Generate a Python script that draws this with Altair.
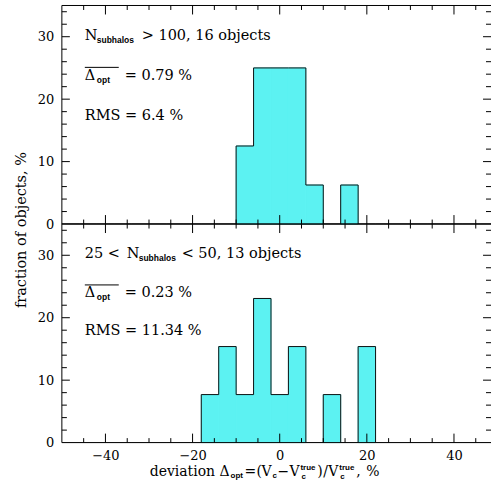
import altair as alt
import pandas as pd

# ---------------- data ----------------
bin_width = 4
hist_start = -50          # bins are aligned at -50 + 4k
hist_stop = 50

top_bin_starts = [-10, -6, -2, 2, 6, 14]
top_pct = [12.5, 25.0, 25.0, 25.0, 6.25, 6.25]

bot_bin_starts = [-18, -14, -10, -6, -2, 2, 10, 18]
bot_pct = [7.69, 15.38, 7.69, 23.08, 7.69, 15.38, 7.69, 15.38]

x_labels = [-40, -20, 0, 20, 40]
x_minor = [-45, -35, -30, -25, -15, -10, -5, 5, 10, 15, 25, 30, 35, 45]
y_labels = [0, 10, 20, 30]
y_major = [10, 20, 30]
y_minor = [2, 4, 6, 8, 12, 14, 16, 18, 22, 24, 26, 28, 32, 34]

top_texts = ["N", "subhalos", "> 100, 16 objects", "Δ", "opt", "= 0.79 %", "RMS = 6.4 %"]
bot_texts = ["25 <", "N", "subhalos", "< 50, 13 objects", "Δ", "opt", "= 0.23 %", "RMS = 11.34 %"]
y_title = "fraction of objects, %"

# ---------------- style ----------------
W, H = 430, 219
SERIF = "DejaVu Serif"
SANS = "Liberation Sans"
CYAN = "#5cf2f2"
FS = 14.5
xs = alt.Scale(domain=[-50, 48.5], nice=False, zero=False)
ys = alt.Scale(domain=[0, 35], nice=False, zero=False)

yaxis = alt.Axis(values=y_labels, ticks=False, domain=False, grid=False,
                 labelPadding=8, title=None, labelFont=SERIF, labelFontSize=13,
                 labelColor="black")
xaxis_bottom = alt.Axis(values=x_labels, ticks=False, domain=False, grid=False,
                        labelPadding=7, title=None, labelFont=SERIF, labelFontSize=13,
                        labelColor="black")


def bars_df(starts, pct):
    return pd.DataFrame({"start": starts,
                         "end": [s + bin_width for s in starts],
                         "pct": pct})


def step_df(starts, pct):
    lookup = dict(zip(starts, pct))
    xs_ = list(range(hist_start, hist_stop, bin_width))
    ys_ = [lookup.get(s, 0.0) for s in xs_]
    xs_.append(hist_stop)
    ys_.append(ys_[-1])
    return pd.DataFrame({"x": xs_, "pct": ys_})


one = pd.DataFrame({"a": [0]})


def txt(t, x, y, size=FS, font=SERIF, weight="normal", **kw):
    return alt.Chart(pd.DataFrame({"t": [t]})).mark_text(
        align=kw.pop("align", "left"), baseline=kw.pop("baseline", "alphabetic"),
        font=font, fontSize=size, fontWeight=weight, color="black", **kw
    ).encode(x=alt.value(x), y=alt.value(y), text="t:N")


def sub(t, x, y, size=8.5):
    return txt(t, x, y, size=size, font=SANS, weight="bold")


def rule(**enc):
    return alt.Chart(one).mark_rule(color="black", strokeWidth=1).encode(**enc)


def frame():
    return [
        rule(x=alt.value(0), y=alt.value(0), y2=alt.value(H)),
        rule(x=alt.value(0), x2=alt.value(W), y=alt.value(0)),
        rule(x=alt.value(0), x2=alt.value(W), y=alt.value(H)),
    ]


def ticks(xaxis):
    layers = []
    for vals, L in ((x_labels, 9), (x_minor, 4.5)):
        d = pd.DataFrame({"v": vals})
        layers.append(alt.Chart(d).mark_rule(color="black", strokeWidth=1).encode(
            x=alt.X("v:Q", scale=xs, axis=xaxis), y=alt.value(H), y2=alt.value(H - L)))
        layers.append(alt.Chart(d).mark_rule(color="black", strokeWidth=1).encode(
            x=alt.X("v:Q", scale=xs, axis=xaxis), y=alt.value(0), y2=alt.value(L)))
    for vals, L in ((y_major, 8), (y_minor, 5)):
        d = pd.DataFrame({"v": vals})
        layers.append(alt.Chart(d).mark_rule(color="black", strokeWidth=1).encode(
            y=alt.Y("v:Q", scale=ys, axis=yaxis), x=alt.value(0), x2=alt.value(L)))
        layers.append(alt.Chart(d).mark_rule(color="black", strokeWidth=1).encode(
            y=alt.Y("v:Q", scale=ys, axis=yaxis), x=alt.value(W), x2=alt.value(W - L)))
    return layers


def panel(starts, pct, xaxis):
    bars = alt.Chart(bars_df(starts, pct)).mark_bar(
        fill=CYAN, stroke=CYAN, strokeWidth=1
    ).encode(
        x=alt.X("start:Q", scale=xs, axis=xaxis),
        x2="end:Q",
        y=alt.Y("pct:Q", scale=ys, axis=yaxis),
        y2=alt.datum(0),
    )
    outline = alt.Chart(step_df(starts, pct)).mark_line(
        interpolate="step-after", color="#111", strokeWidth=1, clip=True
    ).encode(x=alt.X("x:Q", scale=xs, axis=xaxis), y=alt.Y("pct:Q", scale=ys, axis=yaxis))
    return [bars, outline] + ticks(xaxis) + frame()


def overline(y):
    return rule(x=alt.value(23), x2=alt.value(57), y=alt.value(y))


def anchor(y):
    return alt.Chart(one).mark_rule(strokeOpacity=0, color="white").encode(
        x=alt.value(-62), x2=alt.value(W), y=alt.value(y))


# ---------------- top panel ----------------
tb = [35, 75, 115]
top_layers = panel(top_bin_starts, top_pct, None) + [
    txt(top_texts[0], 23, tb[0]), sub(top_texts[1], 35, tb[0] + 3), txt(top_texts[2], 80, tb[0]),
    txt(top_texts[3], 23, tb[1]), sub(top_texts[4], 35, tb[1] + 3), txt(top_texts[5], 63, tb[1]),
    overline(62),
    txt(top_texts[6], 23, tb[2]),
    txt(y_title, -40, 225, align="center", baseline="middle", angle=270),
    anchor(-4.5),
]
top = alt.layer(*top_layers).properties(width=W, height=H)

# ---------------- bottom panel ----------------
bb = [34, 73, 111]
xt = 252
bot_layers = panel(bot_bin_starts, bot_pct, xaxis_bottom) + [
    txt(bot_texts[0], 23, bb[0]), txt(bot_texts[1], 65, bb[0]), sub(bot_texts[2], 77, bb[0] + 3),
    txt(bot_texts[3], 120, bb[0]),
    txt(bot_texts[4], 23, bb[1]), sub(bot_texts[5], 35, bb[1] + 3), txt(bot_texts[6], 63, bb[1]),
    overline(61),
    txt(bot_texts[7], 23, bb[2]),
    # x-axis title pieces
    txt("deviation", 88, xt, size=14), txt("Δ", 158, xt, size=14), sub("opt", 169, xt + 2, 8),
    txt("=", 183, xt, size=14), txt("(", 195, xt, size=14), txt("V", 200, xt, size=14),
    sub("c", 211, xt + 2, 8),
    txt("−", 216, xt, size=14), txt("V", 228, xt, size=14),
    sub("true", 239, xt - 6, 8), sub("c", 240, xt + 3, 8),
    txt(")", 256, xt, size=14), txt("/", 262, xt, size=14), txt("V", 267, xt, size=14),
    sub("true", 278, xt - 6, 8), sub("c", 279, xt + 3, 8),
    txt(",", 295, xt, size=14), txt("%", 305, xt, size=14),
    anchor(H + 50),
]
bottom = alt.layer(*bot_layers).properties(width=W, height=H)

chart = alt.vconcat(top, bottom, spacing=0, bounds="flush").properties(
    padding=0
).configure_view(stroke=None)

chart.save("out.html", embed_options={"renderer": "svg", "actions": False})
